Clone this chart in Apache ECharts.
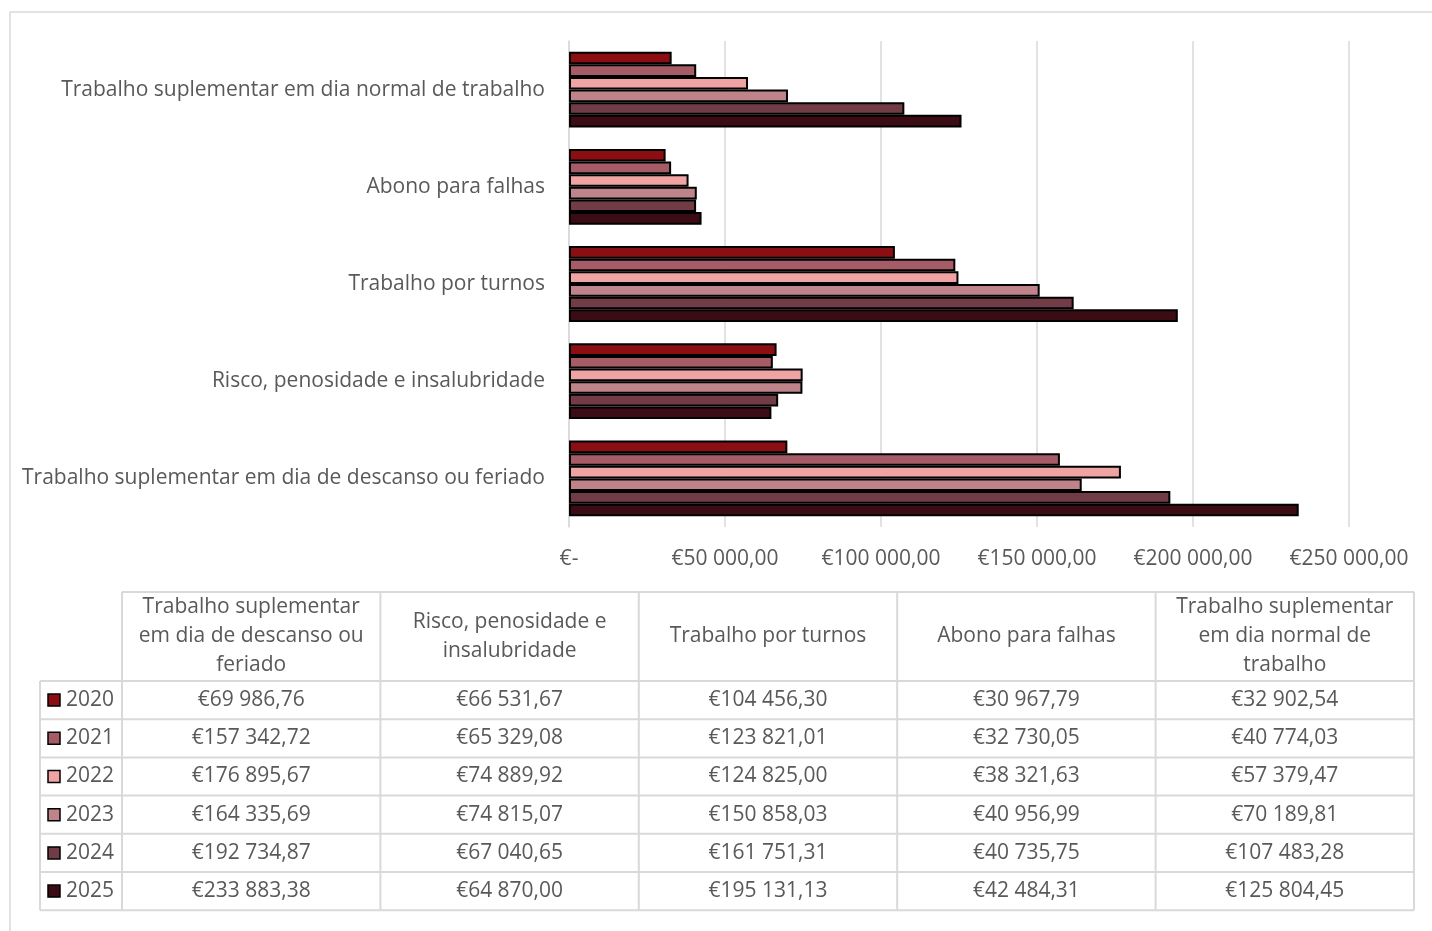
<!DOCTYPE html>
<html>
<head>
<meta charset="utf-8">
<script src="https://cdn.jsdelivr.net/npm/echarts@6/dist/echarts.min.js"></script>
<style>
  html, body { margin: 0; padding: 0; background: #fff; }
  #main { width: 1432px; height: 931px; }
</style>
</head>
<body>
<div id="main"></div>
<script>
// categorias (ordem da tabela, a primeira fica em baixo no gráfico)
var categories = [
  'Trabalho suplementar em dia de descanso ou feriado',
  'Risco, penosidade e insalubridade',
  'Trabalho por turnos',
  'Abono para falhas',
  'Trabalho suplementar em dia normal de trabalho'
];
// cabeçalhos da tabela, já partidos em linhas
var headerLabels = [
  'Trabalho suplementar\nem dia de descanso ou\nferiado',
  'Risco, penosidade e\ninsalubridade',
  'Trabalho por turnos',
  'Abono para falhas',
  'Trabalho suplementar\nem dia normal de\ntrabalho'
];
var years = ['2020', '2021', '2022', '2023', '2024', '2025'];
var v2020 = [69986.76, 66531.67, 104456.30, 30967.79, 32902.54];
var v2021 = [157342.72, 65329.08, 123821.01, 32730.05, 40774.03];
var v2022 = [176895.67, 74889.92, 124825.00, 38321.63, 57379.47];
var v2023 = [164335.69, 74815.07, 150858.03, 40956.99, 70189.81];
var v2024 = [192734.87, 67040.65, 161751.31, 40735.75, 107483.28];
var v2025 = [233883.38, 64870.00, 195131.13, 42484.31, 125804.45];
var values = [v2020, v2021, v2022, v2023, v2024, v2025];
var colors = ['#8b0e12', '#a65c67', '#efa3a3', '#be848a', '#723c46', '#3c0c15'];

var FONT = '"Open Sans", sans-serif';
var FS = 21;
var TXT = '#595959';
var LINE = '#d9d9d9';

function euro(v) {
  if (v === 0) return '€-';
  var parts = v.toFixed(2).split('.');
  var int = parts[0].replace(/\B(?=(\d{3})+(?!\d))/g, ' ');
  return '€' + int + ',' + parts[1];
}

var myChart = echarts.init(document.getElementById('main'));

var series = years.map(function (y, i) {
  return {
    name: y,
    type: 'bar',
    data: values[i],
    barGap: '0%',
    barCategoryGap: '22%',
    itemStyle: { color: colors[i], borderColor: '#000', borderWidth: 2 },
    emphasis: { disabled: true }
  };
});

// tabela de dados desenhada com graphic
var tX0 = 40, tX1 = 122, tX2 = 1414;
var colW = (tX2 - tX1) / categories.length;
var hTop = 592, hBot = 681, rowH = 38.2;
var tBot = hBot + rowH * years.length;
var g = [];
function hline(x1, x2, y) {
  g.push({ type: 'line', silent: true, shape: { x1: x1, y1: y, x2: x2, y2: y }, style: { stroke: LINE, lineWidth: 2 } });
}
function vline(x, y1, y2) {
  g.push({ type: 'line', silent: true, shape: { x1: x, y1: y1, x2: x, y2: y2 }, style: { stroke: LINE, lineWidth: 2 } });
}
// moldura exterior
g.push({ type: 'rect', silent: true, shape: { x: 10, y: 12, width: 1440, height: 940 }, style: { fill: null, stroke: LINE, lineWidth: 1.5 } });
hline(tX1, tX2, hTop);
for (var r = 0; r <= years.length; r++) hline(tX0, tX2, hBot + r * rowH);
vline(tX0, hBot, tBot);
for (var c = 0; c <= categories.length; c++) vline(tX1 + c * colW, hTop, tBot);
headerLabels.forEach(function (h, c) {
  g.push({
    type: 'text', silent: true, x: tX1 + (c + 0.5) * colW, y: (hTop + hBot) / 2,
    style: { text: h, font: FS + 'px ' + FONT, fill: TXT, align: 'center', verticalAlign: 'middle', lineHeight: 29 }
  });
});
years.forEach(function (y, r) {
  var cy = hBot + (r + 0.5) * rowH;
  g.push({ type: 'rect', silent: true, shape: { x: 48, y: cy - 6, width: 12, height: 12 }, style: { fill: colors[r], stroke: '#000', lineWidth: 1.5 } });
  g.push({ type: 'text', silent: true, x: 66, y: cy, style: { text: y, font: FS + 'px ' + FONT, fill: TXT, align: 'left', verticalAlign: 'middle' } });
  values[r].forEach(function (v, c) {
    g.push({
      type: 'text', silent: true, x: tX1 + (c + 0.5) * colW, y: cy,
      style: { text: euro(v), font: FS + 'px ' + FONT, fill: TXT, align: 'center', verticalAlign: 'middle' }
    });
  });
});

myChart.setOption({
  animation: false,
  backgroundColor: '#fff',
  grid: { left: 569, right: 1432 - 1349, top: 41, height: 486, containLabel: false },
  xAxis: {
    type: 'value',
    min: 0,
    max: 250000,
    interval: 50000,
    axisLine: { show: false },
    axisTick: { show: false },
    splitLine: { show: true, lineStyle: { color: LINE, width: 1.5 } },
    axisLabel: { color: TXT, fontSize: FS, fontFamily: FONT, margin: 22, formatter: euro }
  },
  yAxis: {
    type: 'category',
    data: categories,
    axisLine: { show: true, lineStyle: { color: LINE, width: 1.5 } },
    axisTick: { show: false },
    axisLabel: { color: TXT, fontSize: FS, fontFamily: FONT, margin: 24 }
  },
  series: series,
  graphic: g
});
</script>
</body>
</html>
